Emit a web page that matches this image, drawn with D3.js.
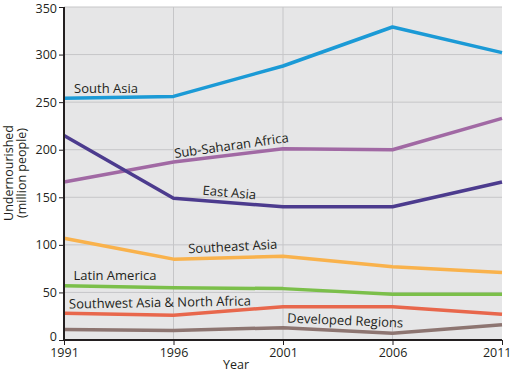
<!DOCTYPE html>
<html><head><meta charset="utf-8">
<script src="https://cdn.jsdelivr.net/npm/d3@7"></script>
<style>body{margin:0;background:#fff}svg{display:block}text{font-family:"Open Sans",sans-serif;fill:#231f20}</style>
</head><body><svg id="c" width="515" height="373"></svg>
<script>
const years = [1991, 1996, 2001, 2006, 2011];
const yTicks = [0, 50, 100, 150, 200, 250, 300, 350];
const regions = ["South Asia","Sub-Saharan Africa","East Asia","Southeast Asia","Latin America","Southwest Asia & North Africa","Developed Regions"];
const southAsia = [254, 256, 288, 329, 302];
const subSaharanAfrica = [166, 187, 201, 200, 233];
const eastAsia = [215, 149, 140, 140, 166];
const southeastAsia = [107, 85, 88, 77, 71];
const latinAmerica = [57, 55, 54, 48, 48];
const swAsiaNAfrica = [28, 26, 35, 35, 27];
const developedRegions = [11, 10, 13, 7, 16];
const seriesValues = [southAsia, subSaharanAfrica, eastAsia, southeastAsia, latinAmerica, swAsiaNAfrica, developedRegions];
const colors = ["#1b9ad6","#a169a4","#4c3b8e","#f9b24c","#7bbf4a","#e8674c","#8d7571"];
const labelPos = [
  {x:106, y:93, r:0},
  {x:232, y:150, r:-8},
  {x:229, y:197, r:5},
  {x:233, y:251, r:-3},
  {x:115, y:280, r:0},
  {x:160, y:307, r:-1},
  {x:345, y:325, r:2.5}
];

const svg = d3.select("#c");
const m = {l:64, r:13, t:7, b:33};
const W = 515, H = 373;
const x = d3.scaleLinear().domain([1991, 2011]).range([m.l, W - m.r]);
const y = d3.scaleLinear().domain([0, 350]).range([H - m.b, m.t]);

svg.append("rect").attr("x", x(1991)).attr("y", y(350)).attr("width", x(2011)-x(1991)).attr("height", y(0)-y(350)).attr("fill", "#e6e6e7");

svg.append("g").selectAll("line").data(yTicks.slice(1)).join("line")
  .attr("x1", x(1991)).attr("x2", x(2011)).attr("y1", d=>y(d)).attr("y2", d=>y(d))
  .attr("stroke", "#c6c6c8").attr("stroke-width", 1);
svg.append("g").selectAll("line").data(years.slice(1, -1)).join("line")
  .attr("x1", d=>x(d)).attr("x2", d=>x(d)).attr("y1", y(0)).attr("y2", y(350))
  .attr("stroke", "#c6c6c8").attr("stroke-width", 1);

const line = d3.line().x((d,i)=>x(years[i])).y(d=>y(d));
svg.append("g").selectAll("path").data(seriesValues).join("path")
  .attr("d", line).attr("fill", "none").attr("stroke", (d,i)=>colors[i])
  .attr("stroke-width", 3.5).attr("stroke-linejoin", "round");

const yAxis = d3.axisLeft(y).tickValues(yTicks).tickSize(5).tickPadding(2);
const gy = svg.append("g").attr("transform", `translate(${x(1991)},0)`).call(yAxis);
const xAxis = d3.axisBottom(x).tickValues(years).tickFormat(d3.format("d")).tickSize(5).tickPadding(3);
const gx = svg.append("g").attr("transform", `translate(0,${y(0)})`).call(xAxis);
[gy, gx].forEach(g => {
  g.select(".domain").attr("stroke", "#231f20").attr("stroke-width", 2);
  g.selectAll(".tick line").attr("stroke", "#231f20").attr("stroke-width", 1);
  g.selectAll(".tick text").attr("font-size", 12.5).attr("font-family", "Open Sans").attr("fill", "#231f20");
});
gy.selectAll(".tick text").attr("dy", (d)=> d === 350 ? "0.45em" : (d === 0 ? "0em" : "0.32em"));
gx.selectAll(".tick text").filter(d => d === 2011).attr("text-anchor", "end").attr("x", 9);
gy.select(".domain").attr("d", `M0,${y(350)}V${y(0)+1}`);
gx.select(".domain").attr("d", `M${x(1991)-1},0H${x(2011)}`);

svg.append("text").attr("x", 236).attr("y", 369).attr("text-anchor", "middle").attr("font-size", 12.5).text("Year");
const yt = svg.append("text").attr("transform", "translate(13,173) rotate(-90)").attr("text-anchor", "middle").attr("font-size", 12.5);
yt.append("tspan").attr("x", 0).attr("dy", 0).text("Undernourished");
yt.append("tspan").attr("x", 0).attr("dy", 13).text("(million people)");

svg.append("g").selectAll("text").data(regions).join("text")
  .attr("transform", (d,i)=>`translate(${labelPos[i].x},${labelPos[i].y}) rotate(${labelPos[i].r})`)
  .attr("text-anchor", "middle").attr("font-size", 13).text(d=>d);
</script></body></html>
